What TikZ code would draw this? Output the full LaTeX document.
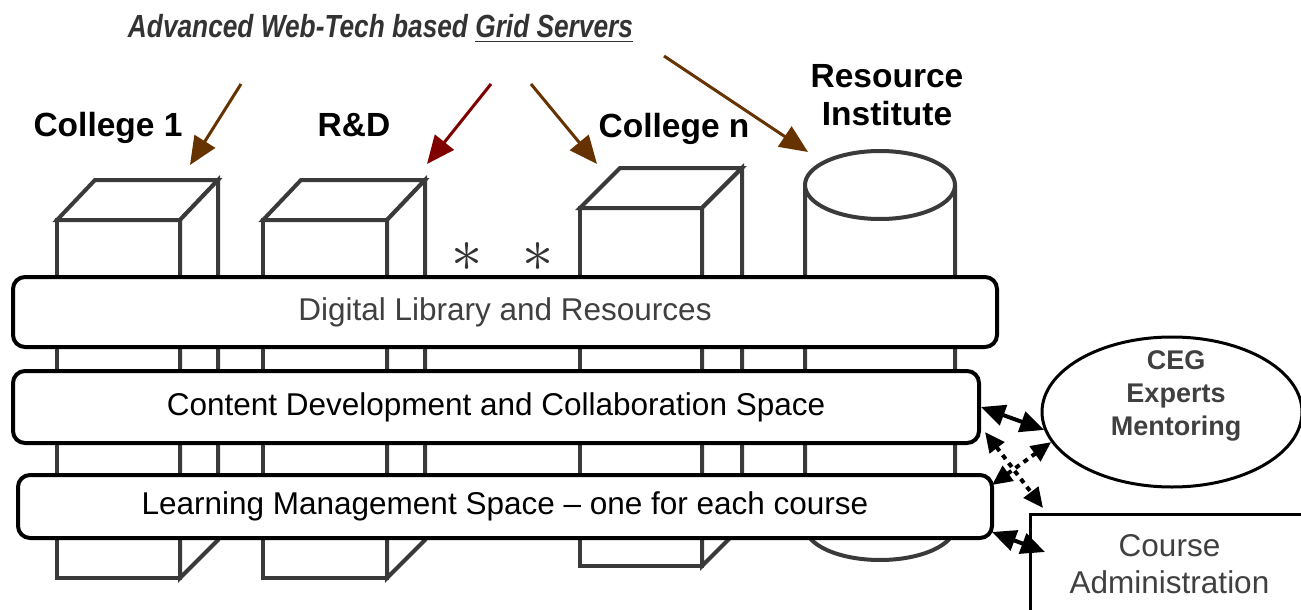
\documentclass[tikz,border=0pt]{standalone}
\usepackage{graphicx}
\usepackage{fontspec}
\setmainfont{Liberation Sans}
\usetikzlibrary{arrows.meta,shapes.geometric}
\definecolor{linegray}{HTML}{3A3A3A}
\definecolor{textgray}{HTML}{404040}
\definecolor{titlegray}{HTML}{333333}
\definecolor{brownarrow}{HTML}{663300}
\definecolor{redarrow}{HTML}{800000}

\begin{document}
\begin{tikzpicture}[x=0.5pt, y=-0.5pt,
        server/.style={draw=linegray, line width=2pt, fill=white, line join=miter},
        bar/.style={rectangle, draw=black, line width=2pt, fill=white, rounded corners=6pt, inner sep=0pt, font=\fontsize{15.75}{18}\selectfont},
        lbl/.style={font=\fontsize{16.75}{19}\selectfont\bfseries, align=center, inner sep=0pt, anchor=base},
        gridarrow/.style={-{Triangle[length=14pt,width=12pt]}, line width=1.5pt, draw=brownarrow, fill=brownarrow},
        link/.style={{Triangle[length=12pt,width=10.5pt]}-{Triangle[length=12pt,width=10.5pt]}, line width=2pt},
        dotlink/.style={{Triangle[length=10pt,width=9pt]}-{Triangle[length=10pt,width=9pt]}, line width=2pt, dash pattern=on 2.5pt off 2.5pt}
    ]
        \clip (0,0) rectangle (1301,610);

        % servers
        \draw[server] (57,220) rectangle (180,578);
        \draw[server] (57,220) -- (95,180) -- (218,180) -- (180,220) -- cycle;
        \draw[server] (180,220) -- (218,180) -- (218,540) -- (180,578) -- cycle;
        \draw[server] (263,220) rectangle (387,578);
        \draw[server] (263,220) -- (301,180) -- (425,180) -- (387,220) -- cycle;
        \draw[server] (387,220) -- (425,180) -- (425,540) -- (387,578) -- cycle;
        \draw[server] (580,208) rectangle (702,566);
        \draw[server] (580,208) -- (620,168) -- (742,168) -- (702,208) -- cycle;
        \draw[server] (702,208) -- (742,168) -- (742,526) -- (702,566) -- cycle;
        \draw[server] (805,185) -- (805,526) arc[start angle=180, end angle=360, x radius=37.5pt, y radius=17pt] -- (955,185);
        \draw[server] (880,185) ellipse[x radius=37.5pt, y radius=17pt];

        \node[text=titlegray, font=\fontsize{20}{20}\selectfont] (star1) at (467,257) {\scalebox{1.5}{$\ast$}};
        \node[text=titlegray, font=\fontsize{20}{20}\selectfont] (star2) at (538,257) {\scalebox{1.5}{$\ast$}};

        % layers
        \node[bar, text=textgray, minimum width=492pt, minimum height=35pt] (dlr) at (505,312) {Digital Library and Resources};
        \node[bar, minimum width=483pt, minimum height=36pt] (cdc) at (496,407) {Content Development and Collaboration Space};
        \node[bar, minimum width=487pt, minimum height=31.5pt] (lms) at (505,506.5) {Learning Management Space -- one for each course};

        % labels
        \node[anchor=base, inner sep=0pt, text=titlegray, font=\fontsize{16}{18}\selectfont\bfseries\itshape] (title) at (380.5,38) {\resizebox{252.5pt}{\height}{Advanced Web-Tech based \underline{Grid Servers}}};
        \node[lbl] (col1) at (108,137) {College 1};
        \node[lbl] (rnd) at (354,137) {R\&D};
        \node[lbl] (coln) at (674,138) {College n};
        \node[lbl] (resinst) at (887,126) {Resource\\Institute};

        \coordinate (g1) at (241,84);
        \coordinate (g2) at (491,84);
        \coordinate (g3) at (531,84);
        \coordinate (g4) at (664,56);
        \coordinate (t1) at (190,165);
        \coordinate (t2) at (427,164);
        \coordinate (t3) at (597,164);
        \coordinate (t4) at (808,152);
        \draw[gridarrow] (g1) -- (t1);
        \draw[gridarrow, draw=redarrow, fill=redarrow] (g2) -- (t2);
        \draw[gridarrow] (g3) -- (t3);
        \draw[gridarrow] (g4) -- (t4);

        % mentoring and administration
        \node[ellipse, draw=black, line width=1.5pt, fill=white, minimum width=130pt, minimum height=75pt, inner sep=0pt] (ceg) at (1172,412) {};
        \node[font=\fontsize{13.5}{16.5}\selectfont\bfseries, text=textgray, align=center] (cegtext) at (1176,396) {CEG\\Experts\\Mentoring};
        \node[rectangle, draw=black, line width=1.5pt, fill=white, anchor=north west, minimum width=139pt, minimum height=50pt, align=center, text=textgray, font=\fontsize{15.75}{18.5}\selectfont] (cadm) at (1029,513) {Course\\Administration};

        \draw[link] (cdc.east) -- (ceg.188);
        \draw[dotlink] ([shift={(2pt,-12.5pt)}]cdc.east) -- ([shift={(7pt,2.5pt)}]cadm.north west);
        \draw[dotlink] (ceg.194) -- ([shift={(-1pt,-6pt)}]lms.north east);
        \draw[link] ([shift={(-1pt,4pt)}]lms.south east) -- ([shift={(8pt,-19.5pt)}]cadm.north west);
    \end{tikzpicture}
\end{document}
